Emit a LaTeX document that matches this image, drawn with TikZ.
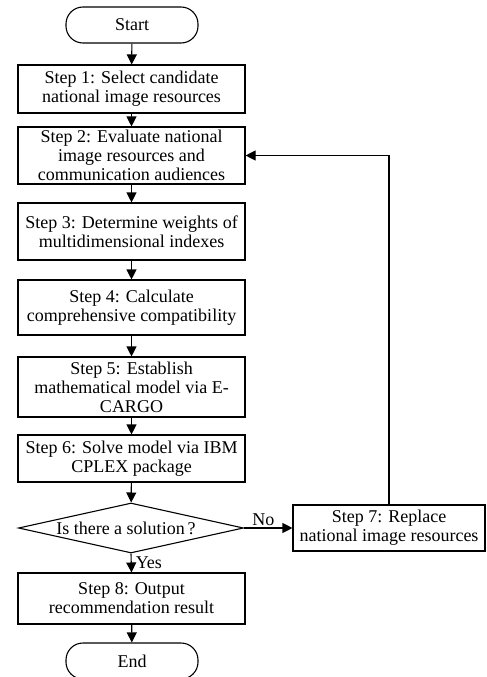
\documentclass[tikz,border=0pt]{standalone}
\usepackage{fontspec}
\setmainfont{Liberation Serif}
\usetikzlibrary{shapes.geometric,arrows.meta}
\begin{document}
\begin{tikzpicture}[x=1pt,y=-1pt,
  txt/.style={font=\fontsize{18}{19}\selectfont},
  box/.style={txt,draw,line width=1.1pt,minimum width=227pt,inner sep=0pt,align=center},
  term/.style={txt,draw,line width=1.1pt,rounded corners=17pt,minimum width=132pt,minimum height=36pt,inner sep=0pt},
  dec/.style={txt,draw,line width=1.1pt,diamond,aspect=4.5,minimum width=225pt,minimum height=50pt,inner sep=0pt},
  arr/.style={line width=1.1pt,-{Triangle[width=10pt,length=10pt]}},
  lbl/.style={txt}]
\useasboundingbox (0,0) rectangle (487,677);
\node[term] (start) at (132,25) {Start};
\node[box,minimum height=48pt] (s1) at (131.5,89) {Step 1: Select candidate\\national image resources};
\node[box,minimum height=57pt] (s2) at (131.5,155.5) {Step 2: Evaluate national\\image resources and\\communication audiences};
\node[box,minimum height=57pt] (s3) at (131.5,231.5) {Step 3: Determine weights of\\multidimensional indexes};
\node[box,minimum height=55pt] (s4) at (131.5,307.5) {Step 4: Calculate\\comprehensive compatibility};
\node[box,minimum height=60pt] (s5) at (131.5,387) {Step 5: Establish\\mathematical model via E-\\CARGO};
\node[box,minimum height=47pt] (s6) at (131.5,458.5) {Step 6: Solve model via IBM\\CPLEX package};
\node[dec] (d) at (131,528) {\hspace*{-10pt}\raisebox{-2pt}{Is there a solution\,?}};
\node[box,minimum width=192pt,minimum height=46pt] (s7) at (389,528) {Step 7: Replace\\national image resources};
\node[box,minimum height=51pt] (s8) at (131.5,598.5) {Step 8: Output\\recommendation result};
\node[term] (end) at (132,661) {End};
\draw[arr] (start) -- (s1);
\draw[arr] (s1) -- (s2);
\draw[arr] (s2) -- (s3);
\draw[arr] (s3) -- (s4);
\draw[arr] (s4) -- (s5);
\draw[arr] (s5) -- (s6);
\draw[arr] (s6) -- (d);
\draw[arr] (d.south) -- node[lbl,right,inner sep=4pt] {Yes} (s8.north);
\draw[arr] (d.east) -- node[lbl,above,pos=0.4,inner sep=2pt] {No} (s7.west);
\draw[arr] (s7.north) |- (s2.east);
\draw[arr] (s8) -- (end);
\end{tikzpicture}
\end{document}
